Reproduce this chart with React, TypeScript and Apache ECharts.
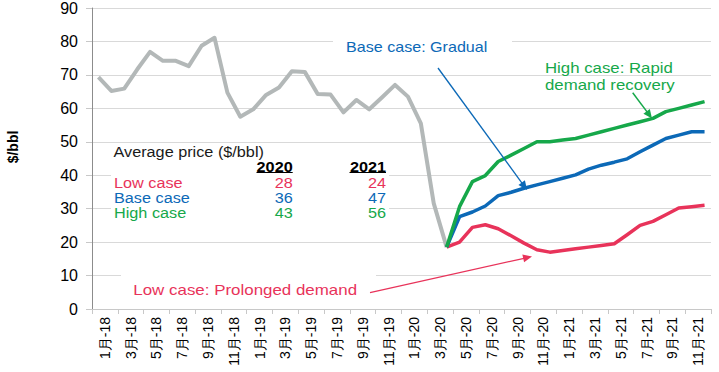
import React, { useEffect, useRef } from "react";
import * as echarts from "echarts";

const years = ["18", "19", "20", "21"];
const monthNums = [1, 2, 3, 4, 5, 6, 7, 8, 9, 10, 11, 12];
const monthLabels = years.flatMap((y) => monthNums.map((m) => `${m}月-${y}`));

const tickLabels = [
  "1月-18", "3月-18", "5月-18", "7月-18", "9月-18", "11月-18",
  "1月-19", "3月-19", "5月-19", "7月-19", "9月-19", "11月-19",
  "1月-20", "3月-20", "5月-20", "7月-20", "9月-20", "11月-20",
  "1月-21", "3月-21", "5月-21", "7月-21", "9月-21", "11月-21",
];

// Jan-18 .. Apr-20
const historical = [
  69.3, 65.2, 65.9, 71.6, 76.9, 74.2, 74.2, 72.6, 78.7, 81.1, 64.7, 57.5,
  59.7, 64.0, 66.2, 71.1, 70.9, 64.3, 64.1, 58.8, 62.5, 59.7, 63.3, 67.0,
  63.5, 55.5, 31.6, 18.5,
];

// May-20 .. Dec-21
const lowCase = [
  20.0, 24.4, 25.2, 24.0, 21.9, 19.7, 17.7, 17.0,
  17.5, 18.0, 18.5, 19.0, 19.5, 22.2, 25.0, 26.2, 28.2, 30.2, 30.6, 31.0,
];
const baseCase = [
  27.6, 29.0, 30.8, 33.9, 34.9, 36.1, 37.1, 38.1,
  39.1, 40.1, 41.8, 43.0, 43.9, 44.9, 47.0, 49.0, 51.0, 52.0, 53.0, 53.0,
];
const highCase = [
  30.6, 38.1, 39.9, 44.1, 46.0, 48.0, 50.0, 50.0,
  50.5, 51.0, 52.0, 53.0, 54.0, 55.0, 56.0, 57.0, 59.0, 60.0, 61.0, 62.0,
];

const tableYears = ["2020", "2021"];
const tableCases = ["Low case", "Base case", "High case"];
const avg2020 = [28, 36, 43];
const avg2021 = [24, 47, 56];

const GRAY = "#b3b8b8";
const GREEN = "#16a84a";
const BLUE = "#0c69b7";
const RED = "#e8335a";
const FONT = '"Liberation Sans", Arial, sans-serif';
const SX = 1.16;

function forecast(vals: number[]) {
  const pad: (number | null)[] = new Array(historical.length - 1).fill(null);
  return [...pad, historical[historical.length - 1], ...vals];
}

function txt(
  text: string,
  x: number,
  y: number,
  fill: string,
  align: string = "left",
  bold = false,
  sx: number = SX
) {
  return {
    type: "text",
    x,
    y,
    scaleX: sx,
    z: 20,
    style: {
      text,
      fill,
      fontSize: 14,
      fontFamily: FONT,
      fontWeight: bold ? "bold" : "normal",
      align,
      verticalAlign: "middle",
    },
  };
}

function rect(x1: number, y1: number, x2: number, y2: number) {
  return {
    type: "rect",
    z: 1,
    shape: { x: x1, y: y1, width: x2 - x1, height: y2 - y1 },
    style: { fill: "#ffffff" },
  };
}

function arrow(x1: number, y1: number, x2: number, y2: number, color: string, w: number) {
  const dx = x2 - x1;
  const dy = y2 - y1;
  const len = Math.sqrt(dx * dx + dy * dy);
  const ux = dx / len;
  const uy = dy / len;
  const hl = 9;
  const hw = 4;
  const bx = x2 - ux * hl;
  const by = y2 - uy * hl;
  const px = -uy * hw;
  const py = ux * hw;
  return [
    {
      type: "line",
      z: 15,
      shape: { x1, y1, x2: bx + ux * 2, y2: by + uy * 2 },
      style: { stroke: color, lineWidth: w },
    },
    {
      type: "polygon",
      z: 15,
      shape: {
        points: [
          [x2, y2],
          [bx + px, by + py],
          [bx - px, by - py],
        ],
      },
      style: { fill: color },
    },
  ];
}

export default function App() {
  const ref = useRef<HTMLDivElement>(null);

  useEffect(() => {
    if (!ref.current) return;
    const chart = echarts.init(ref.current, undefined, { renderer: "svg" });

    const rowY = [182.7, 198.3, 213.3];
    const caseColors = [RED, BLUE, GREEN];

    const graphic: any[] = [
      rect(333, 28, 512, 70),
      rect(111, 144, 389, 222),
      rect(121, 262, 376, 305),
      txt("Base case: Gradual", 346, 46.5, BLUE, "left", false, 1.15),
      txt("High case: Rapid", 545, 68.3, GREEN, "left", false, 1.2),
      txt("demand recovery", 545, 85, GREEN, "left", false, 1.2),
      txt("Average price ($/bbl)", 113.5, 151.5, "#1a1a1a"),
      txt(tableYears[0], 292.7, 167, "#000", "right", true),
      txt(tableYears[1], 386, 167, "#000", "right", true),
      {
        type: "line",
        z: 20,
        shape: { x1: 256.5, y1: 172.5, x2: 292.7, y2: 172.5 },
        style: { stroke: "#000", lineWidth: 1.2 },
      },
      {
        type: "line",
        z: 20,
        shape: { x1: 349.5, y1: 172.5, x2: 386, y2: 172.5 },
        style: { stroke: "#000", lineWidth: 1.2 },
      },
      ...tableCases.map((c, i) => txt(c, 114, rowY[i], caseColors[i])),
      ...avg2020.map((v, i) => txt(String(v), 292.7, rowY[i], caseColors[i], "right")),
      ...avg2021.map((v, i) => txt(String(v), 386, rowY[i], caseColors[i], "right")),
      txt("Low case: Prolonged demand", 133.3, 290, RED, "left", false, 1.21),
      {
        type: "text",
        x: 13,
        y: 147,
        rotation: Math.PI / 2,
        z: 20,
        style: {
          text: "$/bbl",
          fill: "#000",
          fontSize: 14,
          fontWeight: "bold",
          fontFamily: FONT,
          align: "center",
          verticalAlign: "middle",
        },
      },
      ...arrow(438, 68, 527, 190, BLUE, 1.3),
      ...arrow(632.7, 92.7, 652, 118.5, GREEN, 1.5),
      ...arrow(370, 292.7, 532, 256.5, RED, 1.3),
    ];

    const lineSeries = (name: string, data: any[], color: string, z: number, width = 3.5) => ({
      name,
      type: "line",
      xAxisIndex: 0,
      data,
      symbol: "none",
      showSymbol: false,
      connectNulls: false,
      z,
      lineStyle: { color, width, join: "round" },
      itemStyle: { color },
    });

    chart.setOption({
      animation: false,
      backgroundColor: "#ffffff",
      textStyle: { fontFamily: FONT },
      grid: { left: 92, right: 8, top: 8, bottom: 63, containLabel: false },
      xAxis: [
        {
          type: "category",
          data: monthLabels,
          boundaryGap: true,
          show: false,
          position: "bottom",
        },
        {
          type: "category",
          data: tickLabels,
          boundaryGap: true,
          position: "bottom",
          axisLine: { show: true, lineStyle: { color: "#c8c8c8", width: 1 } },
          axisTick: { show: true, interval: 0, length: 5, lineStyle: { color: "#c8c8c8" } },
          axisLabel: {
            interval: 0,
            rotate: 90,
            fontSize: 14,
            color: "#000",
            margin: 8,
            fontFamily: FONT,
          },
          splitLine: { show: false },
        },
      ],
      yAxis: {
        type: "value",
        min: 0,
        max: 90,
        interval: 10,
        axisLine: { show: true, lineStyle: { color: "#8c8c8c", width: 1 } },
        axisTick: { show: true, length: 6, lineStyle: { color: "#c8c8c8" } },
        axisLabel: { fontSize: 16, color: "#000", margin: 14, fontFamily: FONT },
        splitLine: { show: true, lineStyle: { color: "#d9d9d9", width: 1 } },
      },
      series: [
        lineSeries("Historical", historical, GRAY, 2, 4),
        lineSeries("Low case", forecast(lowCase), RED, 3),
        lineSeries("Base case", forecast(baseCase), BLUE, 4),
        lineSeries("High case", forecast(highCase), GREEN, 5),
      ],
      graphic,
    });

    return () => chart.dispose();
  }, []);

  return (
    <div
      ref={ref}
      style={{ position: "absolute", left: 0, top: 0, width: 719, height: 372 }}
    />
  );
}
